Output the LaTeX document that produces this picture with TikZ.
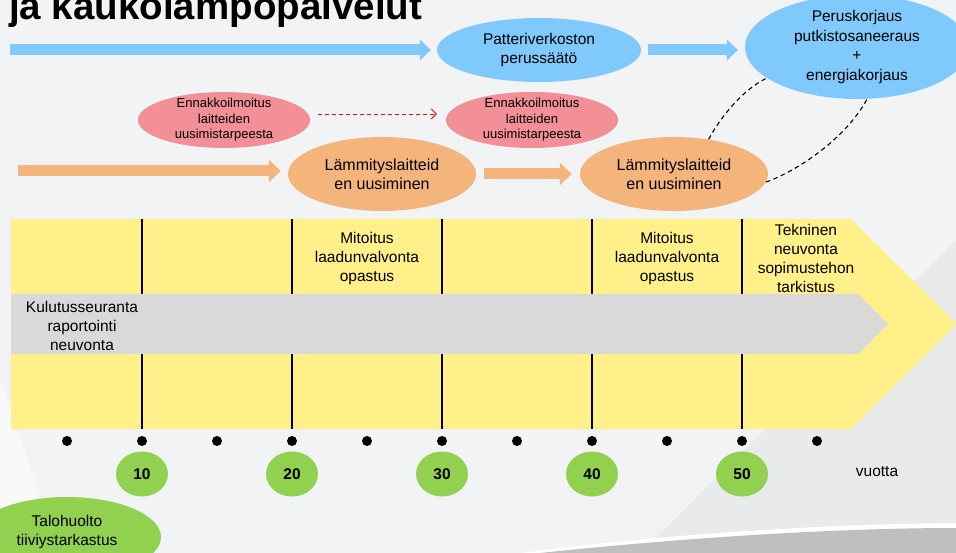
\documentclass[tikz,border=0pt]{standalone}
\usepackage{fontspec}
\setmainfont{Liberation Sans}
\usetikzlibrary{shapes.geometric,arrows.meta,calc}
\definecolor{bgc}{RGB}{242,243,244}
\definecolor{bgdark}{RGB}{233,234,236}
\definecolor{bandgray}{RGB}{190,191,193}
\definecolor{skyb}{RGB}{127,201,252}
\definecolor{pinkr}{RGB}{243,143,150}
\definecolor{orng}{RGB}{244,181,125}
\definecolor{yell}{RGB}{255,240,138}
\definecolor{lgray}{RGB}{217,217,217}
\definecolor{grn}{RGB}{146,208,80}
\begin{document}
\begin{tikzpicture}[x=1pt,y=-1pt,
  txt/.style={font=\fontsize{15.5}{19}\selectfont, align=center, inner sep=0pt, text=black},
  ell/.style={ellipse, draw=none, inner sep=0pt, align=center, text=black},
  blueell/.style={ell, fill=skyb, font=\fontsize{15.5}{19.5}\selectfont},
  redell/.style={ell, fill=pinkr, font=\fontsize{13}{15.5}\selectfont, inner ysep=-7pt},
  orell/.style={ell, fill=orng, font=\fontsize{16}{19}\selectfont},
  yearell/.style={ell, fill=grn, minimum width=52pt, minimum height=45pt, font=\fontsize{15.5}{18}\selectfont\bfseries},
  blockblue/.style={draw=skyb, line width=11pt, -{Triangle[length=11pt,width=21pt]}},
  blockor/.style={draw=orng, line width=11pt, -{Triangle[length=12pt,width=22pt]}},
  reddash/.style={draw=red, line width=0.8pt, dash pattern=on 4pt off 3pt, -{Straight Barb[length=5pt,width=10pt]}},
  blackdash/.style={draw=black, line width=1.1pt, dash pattern=on 4.5pt off 3.5pt},
  tick/.style={draw=black, line width=1.1pt},
  dotn/.style={circle, fill=black, inner sep=0pt, minimum size=10pt}
]
\useasboundingbox (0,0) rectangle (956,553);
\clip (0,0) rectangle (956,553);
% background
\fill[bgc] (0,0) rectangle (956,553);
\fill[white, opacity=0.5] (0,380) -- (60,553) -- (0,553) -- cycle;
\fill[bgdark] (640,553) -- (956,240) -- (956,553) -- cycle;
\fill[white] (520,553) .. controls (680,532) and (840,524) .. (956,523) -- (956,553) -- cycle;
\fill[bandgray] (540,553) .. controls (700,536) and (850,528) .. (956,528) -- (956,553) -- cycle;

% title
\node[anchor=base west, inner sep=0pt, font=\fontsize{38.5}{40}\selectfont\bfseries] (title) at (9,20) {ja kaukolämpöpalvelut};

% yellow big arrow
\fill[yell] (11,219) -- (851,219) -- (957,324) -- (851,429) -- (11,429) -- cycle;
\foreach \x in {142,292,442,592,742}{
  \draw[tick] (\x,219) -- (\x,294);
  \draw[tick] (\x,354) -- (\x,429);
}
% gray band arrow
\fill[lgray] (11,294) -- (858,294) -- (888,324) -- (858,354) -- (11,354) -- cycle;

\node[txt] (kul) at (82,326) {Kulutusseuranta\\raportointi\\neuvonta};
\node[txt] (mit1) at (367,258) {Mitoitus\\laadunvalvonta\\opastus};
\node[txt] (mit2) at (667,258) {Mitoitus\\laadunvalvonta\\opastus};
\node[txt] (tek) at (806,258) {Tekninen\\neuvonta\\sopimustehon\\tarkistus};

% dots
\foreach \x [count=\i] in {67,142,217,292,367,442,517,592,667,742,817}{
  \node[dotn] (d\i) at (\x,441) {};
}
% years
\foreach \x/\y in {142/10,292/20,442/30,592/40,742/50}{
  \node[yearell] (y\y) at (\x,474) {\y};
}
\node[txt] (vuotta) at (877,472) {vuotta};

% talohuolto
\node[ell, fill=grn, minimum width=188pt, minimum height=80pt] (talo) at (67,537) {};
\node[txt] (talotxt) at (67,531.5) {Talohuolto\\tiiviystarkastus};

% top blue row
\node[blueell, minimum width=204pt, minimum height=64pt] (pv) at (539,50) {Patteriverkoston\\perussäätö};
\node[blueell, minimum width=224pt, minimum height=104pt] (pk) at (857,47) {Peruskorjaus\\putkistosaneeraus\\+\\energiakorjaus};
\coordinate (b1s) at (10,50);
\draw[blockblue, shorten >=6pt] (b1s) -- (b1s -| pv.west);
\draw[blockblue, shorten <=7pt, shorten >=7pt] (pv.east) -- (pv.east -| pk.west);

% red row
\node[redell, minimum width=172pt, minimum height=56pt] (e1) at (224,120) {Ennakkoilmoitus\\laitteiden\\uusimistarpeesta};
\node[redell, minimum width=172pt, minimum height=56pt] (e2) at (532,120) {Ennakkoilmoitus\\laitteiden\\uusimistarpeesta};
\draw[reddash] ([xshift=8pt,yshift=6pt]e1.east) -- ([xshift=-9pt,yshift=6pt]e2.west);

% orange row
\node[orell, minimum width=188pt, minimum height=74pt] (l1) at (382,174) {Lämmityslaitteid\\en uusiminen};
\node[orell, minimum width=188pt, minimum height=74pt] (l2) at (674,174) {Lämmityslaitteid\\en uusiminen};
\coordinate (o1s) at (18,171);
\draw[blockor, shorten >=7pt] (o1s) -- (o1s -| l1.west);
\draw[blockor, shorten <=8pt, shorten >=8pt] (l1.east) -- (l1.east -| l2.west);

% dashed links
\draw[blackdash] (l2.45) .. controls (720,118) and (742,90) .. (pk.199);
\draw[blackdash] (l2.355) .. controls (795,172) and (845,140) .. (pk.281);
\end{tikzpicture}
\end{document}
